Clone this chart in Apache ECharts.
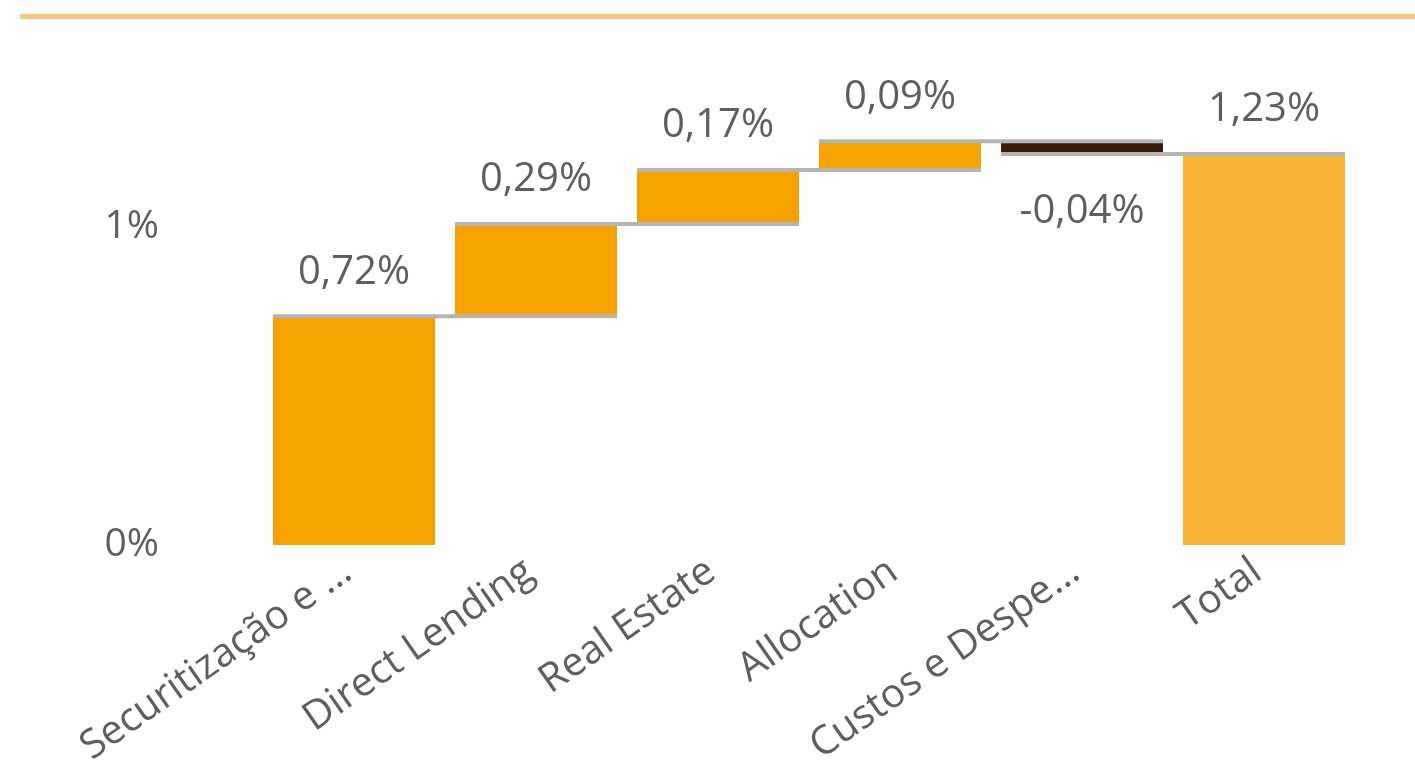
<!DOCTYPE html>
<html>
<head>
<meta charset="utf-8">
<script src="https://cdn.jsdelivr.net/npm/echarts@6/dist/echarts.min.js"></script>
<style>
  html, body { margin: 0; padding: 0; background: #fff; }
  #main { width: 1415px; height: 773px; }
</style>
</head>
<body>
<div id="main"></div>
<script>
var categories = ['Securitização e ...', 'Direct Lending', 'Real Estate', 'Allocation', 'Custos e Despe...', 'Total']
var deltas = [0.72, 0.29, 0.17, 0.09, -0.04]
var total = 1.23
var yTicks = [0, 1]

var colUp = '#F7A200'
var colDown = '#3B1A08'
var colTotal = '#F8B435'
var textCol = '#605E5C'
var barW = 162

// waterfall pieces from the deltas
var baseData = []
var barData = []
var connectors = []
var run = 0
deltas.forEach(function (d, i) {
  var next = run + d
  baseData.push(Math.min(run, next))
  barData.push({
    value: Math.abs(d),
    shown: d,
    itemStyle: { color: d >= 0 ? colUp : colDown },
    label: { position: d >= 0 ? 'top' : 'bottom', distance: d >= 0 ? 24 : 38 }
  })
  run = next
  connectors.push([i, run])
})
baseData.push(0)
barData.push({ value: total, shown: total, itemStyle: { color: colTotal }, label: { position: 'top', distance: 24 } })

function pct (v) {
  return v.toFixed(2).replace('.', ',') + '%'
}

var myChart = echarts.init(document.getElementById('main'))
myChart.setOption({
  animation: false,
  textStyle: { fontFamily: 'Open Sans' },
  graphic: [{
    type: 'rect',
    shape: { x: 20, y: 14, width: 1395, height: 5 },
    style: { fill: '#F6C978' }
  }],
  grid: { left: 263, right: 60, top: 100, bottom: 228, outerBoundsMode: 'none', containLabel: false },
  xAxis: {
    type: 'category',
    data: categories,
    axisLine: { show: false },
    axisTick: { show: false },
    axisLabel: { rotate: 35, margin: 18, padding: [0, 8, 0, 0], fontSize: 40, color: textCol, interval: 0 }
  },
  yAxis: {
    type: 'value',
    min: 0,
    max: 1.4,
    interval: 1,
    splitLine: { show: false },
    axisLabel: {
      margin: 104,
      padding: [8, 0, 0, 0],
      fontSize: 39,
      color: textCol,
      formatter: function (v) { return yTicks.indexOf(v) >= 0 ? v + '%' : '' }
    }
  },
  series: [
    {
      type: 'bar',
      stack: 'w',
      barWidth: barW,
      itemStyle: { color: 'transparent' },
      data: baseData,
      silent: true
    },
    {
      type: 'bar',
      stack: 'w',
      barWidth: barW,
      data: barData,
      label: {
        show: true,
        fontSize: 40,
        color: textCol,
        formatter: function (p) { return pct(p.data.shown) }
      }
    },
    {
      type: 'custom',
      z: 5,
      data: connectors,
      renderItem: function (params, api) {
        var p = api.coord([api.value(0), api.value(1)])
        var band = api.size([1, 0])[0]
        return {
          type: 'line',
          shape: { x1: p[0] - barW / 2, y1: p[1], x2: p[0] + band + barW / 2, y2: p[1] },
          style: { stroke: '#B5B5B5', lineWidth: 4 }
        }
      }
    }
  ]
})
</script>
</body>
</html>
